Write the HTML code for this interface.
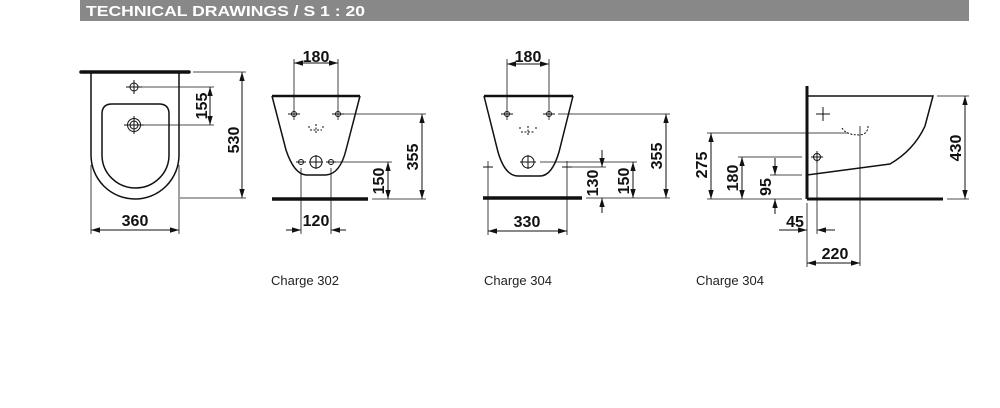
<!DOCTYPE html>
<html><head><meta charset="utf-8"><style>
html,body{margin:0;padding:0;background:#fff;width:1000px;height:408px;overflow:hidden}
svg{display:block}
.d{font-family:"Liberation Sans",sans-serif;font-weight:bold;font-size:16px;fill:#111}
.l{font-family:"Liberation Sans",sans-serif;font-size:13px;fill:#222}
</style></head><body>
<svg width="1000" height="408" viewBox="0 0 1000 408" xmlns="http://www.w3.org/2000/svg">
<defs>
<marker id="a" viewBox="0 0 10 6" refX="10" refY="3" markerWidth="9" markerHeight="5.5" orient="auto-start-reverse" markerUnits="userSpaceOnUse"><path d="M0,0L10,3L0,6z" fill="#111"/></marker>
</defs>
<rect x="80" y="0" width="889" height="21" fill="#888"/>
<text x="86" y="16" fill="#fff" font-family="Liberation Sans,sans-serif" font-weight="bold" font-size="15" textLength="279" lengthAdjust="spacingAndGlyphs">TECHNICAL DRAWINGS / S 1 : 20</text>

<g fill="none" stroke="#111" stroke-width="1">
<!-- Drawing 1 -->
<line x1="81" y1="72" x2="189" y2="72" stroke-width="3.5" stroke-linecap="round"/>
<path d="M91,72V155A44,44 0 0 0 179,155V72" stroke-width="1.5"/>
<path d="M102,155V114Q102,104 112,104H159Q169,104 169,114V155A33.5,33 0 0 1 102,155" stroke-width="1.5"/>
<circle cx="134" cy="87" r="4"/><line x1="126" y1="87" x2="142" y2="87"/><line x1="134" y1="80" x2="134" y2="94"/>
<circle cx="134" cy="125" r="6.5"/><circle cx="134" cy="125" r="4"/><line x1="124" y1="125" x2="144" y2="125"/><line x1="134" y1="116" x2="134" y2="134"/>
<line x1="142" y1="87" x2="214" y2="87" stroke-width=".8"/><line x1="144" y1="125" x2="214" y2="125" stroke-width=".8"/>
<line x1="210" y1="87" x2="210" y2="125" marker-start="url(#a)" marker-end="url(#a)"/>
<line x1="193" y1="72" x2="246" y2="72" stroke-width=".8"/><line x1="180" y1="198" x2="246" y2="198" stroke-width=".8"/>
<line x1="242" y1="72" x2="242" y2="198" marker-start="url(#a)" marker-end="url(#a)"/>
<line x1="91" y1="165" x2="91" y2="234" stroke-width=".8"/><line x1="179" y1="165" x2="179" y2="234" stroke-width=".8"/>
<line x1="91" y1="230" x2="179" y2="230" marker-start="url(#a)" marker-end="url(#a)"/>

<!-- Drawing 2 -->
<line x1="272" y1="96" x2="360" y2="96" stroke-width="2.5"/>
<path d="M272,96L286,150Q294,174 306,175H326Q340,174 346,150L360,96" stroke-width="1.5"/>
<line x1="294" y1="59" x2="294" y2="120" stroke-width=".8"/><line x1="338" y1="59" x2="338" y2="120" stroke-width=".8"/>
<line x1="294" y1="63" x2="338" y2="63" marker-start="url(#a)" marker-end="url(#a)"/>
<circle cx="294" cy="114" r="2.5"/><line x1="288" y1="114" x2="300" y2="114"/>
<circle cx="338" cy="114" r="2.5"/><line x1="332" y1="114" x2="344" y2="114"/><line x1="344" y1="114" x2="426" y2="114" stroke-width=".8"/>
<path d="M309,126v2M323,126v2M316,124v10M310,130h12" stroke-dasharray="2 1.5"/>
<circle cx="301" cy="162" r="2.5"/><line x1="296" y1="162" x2="306" y2="162"/>
<circle cx="316" cy="162" r="6"/><line x1="309" y1="162" x2="323" y2="162"/><line x1="316" y1="155" x2="316" y2="169"/>
<circle cx="331" cy="162" r="2.5"/><line x1="326" y1="162" x2="336" y2="162"/><line x1="336" y1="162" x2="392" y2="162" stroke-width=".8"/>
<line x1="272" y1="199" x2="368" y2="199" stroke-width="3.5"/>
<line x1="372" y1="199" x2="426" y2="199" stroke-width=".8"/>
<line x1="388" y1="162" x2="388" y2="199" marker-start="url(#a)" marker-end="url(#a)"/>
<line x1="422" y1="114" x2="422" y2="199" marker-start="url(#a)" marker-end="url(#a)"/>
<line x1="301" y1="168" x2="301" y2="234" stroke-width=".8"/><line x1="331" y1="168" x2="331" y2="234" stroke-width=".8"/>
<line x1="286" y1="230" x2="301" y2="230" marker-end="url(#a)"/><line x1="346" y1="230" x2="331" y2="230" marker-end="url(#a)"/>

<!-- Drawing 3 -->
<line x1="484" y1="96" x2="573" y2="96" stroke-width="2.5"/>
<path d="M484,96L498,152Q505,176 518,176H540Q552,176 559,152L573,96" stroke-width="1.5"/>
<line x1="507" y1="59" x2="507" y2="120" stroke-width=".8"/><line x1="549" y1="59" x2="549" y2="120" stroke-width=".8"/>
<line x1="507" y1="64" x2="549" y2="64" marker-start="url(#a)" marker-end="url(#a)"/>
<circle cx="507" cy="114" r="2.5"/><line x1="501" y1="114" x2="513" y2="114"/>
<circle cx="549" cy="114" r="2.5"/><line x1="543" y1="114" x2="555" y2="114"/><line x1="558" y1="114" x2="670" y2="114" stroke-width=".8"/>
<path d="M520,127v3M536,127v3M528,126v10M521,132h14" stroke-dasharray="2 1.5"/>
<circle cx="528" cy="162" r="6"/><line x1="520" y1="162" x2="536" y2="162"/><line x1="528" y1="155" x2="528" y2="169"/>
<line x1="540" y1="162" x2="637" y2="162" stroke-width=".8"/>
<line x1="488" y1="161" x2="488" y2="235" stroke-width=".8"/><line x1="483" y1="167" x2="493" y2="167"/>
<line x1="567" y1="161" x2="567" y2="235" stroke-width=".8"/><line x1="562" y1="167" x2="572" y2="167"/>
<line x1="572" y1="167" x2="606" y2="167" stroke-width=".8"/>
<line x1="483" y1="198" x2="582" y2="198" stroke-width="3.5"/>
<line x1="586" y1="198" x2="670" y2="198" stroke-width=".8"/>
<line x1="602" y1="150" x2="602" y2="167" marker-end="url(#a)"/><line x1="602" y1="213" x2="602" y2="198" marker-end="url(#a)"/>
<line x1="633" y1="162" x2="633" y2="198" marker-start="url(#a)" marker-end="url(#a)"/>
<line x1="666" y1="114" x2="666" y2="198" marker-start="url(#a)" marker-end="url(#a)"/>
<line x1="488" y1="231" x2="567" y2="231" marker-start="url(#a)" marker-end="url(#a)"/>

<!-- Drawing 4 -->
<line x1="807" y1="86" x2="807" y2="199" stroke-width="3"/>
<line x1="807" y1="199" x2="943" y2="199" stroke-width="3"/>
<path d="M807,96H933L925,126Q914,150 890,164L807,175" stroke-width="1.5"/>
<line x1="816" y1="114" x2="830" y2="114"/><line x1="823" y1="107" x2="823" y2="121"/>
<path d="M842,128Q846,135 860,135Q868,134 868,126" stroke-dasharray="2 1.5"/>
<line x1="860" y1="126" x2="860" y2="266" stroke-width=".8"/>
<circle cx="817" cy="157" r="3.5"/><line x1="811" y1="157" x2="823" y2="157"/><line x1="817" y1="151" x2="817" y2="163"/>
<line x1="817" y1="163" x2="817" y2="234" stroke-width=".8"/>
<line x1="807" y1="203" x2="807" y2="267" stroke-width=".8"/>
<line x1="937" y1="96" x2="969" y2="96" stroke-width=".8"/><line x1="947" y1="199" x2="969" y2="199" stroke-width=".8"/>
<line x1="965" y1="96" x2="965" y2="199" marker-start="url(#a)" marker-end="url(#a)"/>
<line x1="707" y1="133" x2="848" y2="133" stroke-width=".8"/>
<line x1="738" y1="157" x2="802" y2="157" stroke-width=".8"/>
<line x1="770" y1="175" x2="802" y2="175" stroke-width=".8"/>
<line x1="707" y1="199" x2="802" y2="199" stroke-width=".8"/>
<line x1="711" y1="133" x2="711" y2="199" marker-start="url(#a)" marker-end="url(#a)"/>
<line x1="742" y1="157" x2="742" y2="199" marker-start="url(#a)" marker-end="url(#a)"/>
<line x1="775" y1="158" x2="775" y2="175" marker-end="url(#a)"/><line x1="775" y1="214" x2="775" y2="199" marker-end="url(#a)"/>
<line x1="779" y1="230" x2="807" y2="230" marker-end="url(#a)"/><line x1="835" y1="230" x2="817" y2="230" marker-end="url(#a)"/>
<line x1="807" y1="263" x2="860" y2="263" marker-start="url(#a)" marker-end="url(#a)"/>
</g>

<g class="d">
<text x="316" y="62" text-anchor="middle">180</text>
<text x="528" y="62" text-anchor="middle">180</text>
<text x="135" y="226" text-anchor="middle">360</text>
<text x="316" y="226" text-anchor="middle">120</text>
<text x="527" y="227" text-anchor="middle">330</text>
<text x="795" y="227" text-anchor="middle">45</text>
<text x="835" y="259" text-anchor="middle">220</text>
<text transform="translate(207,106) rotate(-90)" text-anchor="middle">155</text>
<text transform="translate(239,140) rotate(-90)" text-anchor="middle">530</text>
<text transform="translate(418,157) rotate(-90)" text-anchor="middle">355</text>
<text transform="translate(384,181) rotate(-90)" text-anchor="middle">150</text>
<text transform="translate(662,156) rotate(-90)" text-anchor="middle">355</text>
<text transform="translate(629,181) rotate(-90)" text-anchor="middle">150</text>
<text transform="translate(598,183) rotate(-90)" text-anchor="middle">130</text>
<text transform="translate(961,148) rotate(-90)" text-anchor="middle">430</text>
<text transform="translate(707,165) rotate(-90)" text-anchor="middle">275</text>
<text transform="translate(738,178) rotate(-90)" text-anchor="middle">180</text>
<text transform="translate(771,187) rotate(-90)" text-anchor="middle">95</text>
</g>

<text class="l" x="271" y="285">Charge 302</text>
<text class="l" x="484" y="285">Charge 304</text>
<text class="l" x="696" y="285">Charge 304</text>
</svg>
</body></html>
